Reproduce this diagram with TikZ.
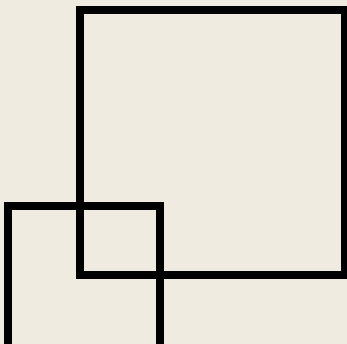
\documentclass[tikz,border=0pt]{standalone}
\definecolor{bg}{RGB}{240,235,225}
\tikzset{sq/.style={draw=black,line width=8pt}}
\begin{document}
\begin{tikzpicture}[x=1pt,y=-1pt]
\useasboundingbox (0,0) rectangle (347,344);
\fill[bg] (0,0) rectangle (347,344);
\clip (0,0) rectangle (347,344);
\draw[sq] (80,10.5) rectangle (345,275);
\draw[sq] (8,206) rectangle (159.5,358);
\end{tikzpicture}
\end{document}
